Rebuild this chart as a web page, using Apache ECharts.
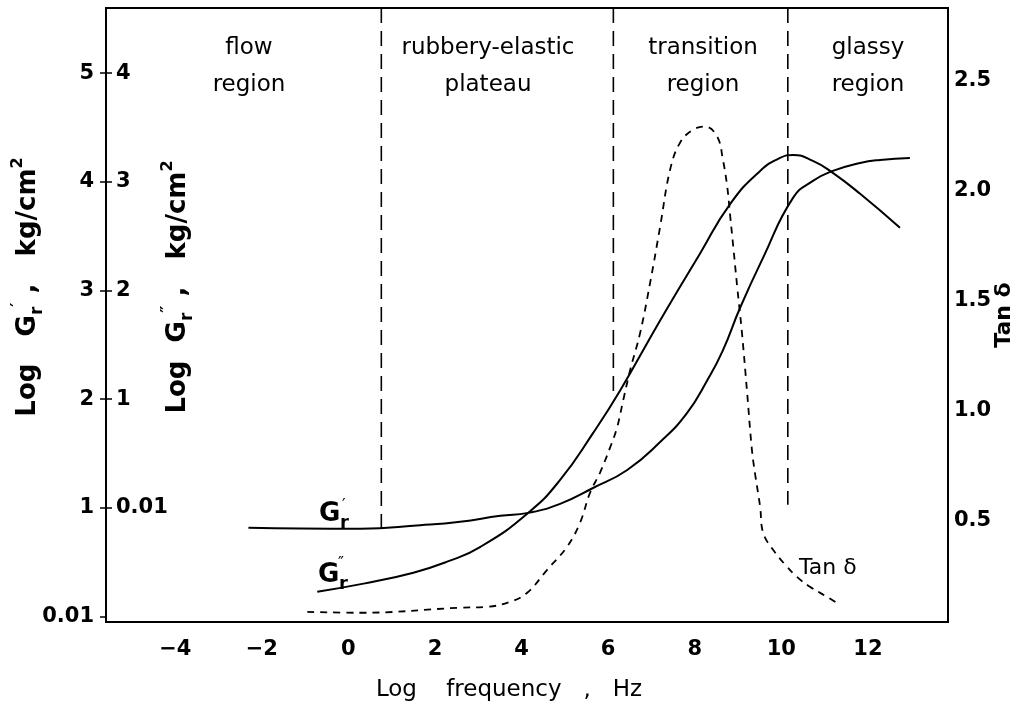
<!DOCTYPE html>
<html><head><meta charset="utf-8">
<script src="https://cdn.jsdelivr.net/npm/echarts@6/dist/echarts.min.js"></script>
<style>html,body{margin:0;padding:0;background:#fff}#c{width:1017px;height:709px}</style>
</head><body><div id="c"></div>
<script>
// ---- data ----
const xTicks = [-4, -2, 0, 2, 4, 6, 8, 10, 12];
const gPrimeTicks = [0, 1, 2, 3, 4, 5];          // outer left axis (0 labelled "0.01")
const gDoublePrimeTicks = [0, 1, 2, 3, 4];       // inner left axis (0 labelled "0.01")
const tanTicks = [0.5, 1.0, 1.5, 2.0, 2.5];      // right axis

// Log G'r (storage modulus), outer left axis
const gPrimeX = [-2.31, -1.11, 0.28, 1.66, 2.58, 3.51, 4.15, 4.89, 5.65, 6.44, 7.20, 7.82, 8.29, 8.65, 9.05, 9.58, 10.27, 10.73, 11.19, 11.82, 12.28, 12.97];
const gPrimeY = [0.817, 0.810, 0.808, 0.840, 0.872, 0.927, 0.954, 1.037, 1.183, 1.349, 1.606, 1.872, 2.174, 2.450, 2.844, 3.303, 3.853, 4.009, 4.101, 4.174, 4.202, 4.220];

// Log G''r (loss modulus), inner left axis
const gDoublePrimeX = [-0.72, 0.35, 1.50, 2.28, 3.05, 4.15, 4.89, 5.65, 6.28, 7.20, 8.12, 8.82, 9.51, 9.97, 10.27, 10.73, 11.19, 11.82, 12.74];
const gDoublePrimeY = [-0.771, -0.697, -0.596, -0.495, -0.358, -0.046, 0.257, 0.688, 1.083, 1.725, 2.339, 2.798, 3.101, 3.220, 3.248, 3.193, 3.083, 2.890, 2.578];

// Tan delta, right axis
const tanX = [-0.95, 0.28, 2.58, 3.21, 3.74, 4.13, 4.59, 5.05, 5.35, 5.58, 5.81, 6.05, 6.21, 6.35, 6.51, 6.74, 6.97, 7.20, 7.43, 7.66, 7.96, 8.24, 8.52, 8.65, 8.75, 8.82, 8.89, 8.98, 9.09, 9.21, 9.32, 9.39, 9.51, 9.58, 9.81, 10.09, 10.36, 10.66, 11.05, 11.35];
const tanY = [0.086, 0.082, 0.105, 0.109, 0.132, 0.173, 0.277, 0.382, 0.491, 0.627, 0.718, 0.836, 0.927, 1.050, 1.186, 1.355, 1.582, 1.836, 2.095, 2.218, 2.277, 2.291, 2.245, 2.141, 2.018, 1.882, 1.745, 1.564, 1.355, 1.082, 0.823, 0.718, 0.564, 0.445, 0.368, 0.300, 0.245, 0.200, 0.155, 0.118];

// region boundaries (x position, lower end on outer left axis)
const boundaryX = [0.76, 6.12, 10.15];
const boundaryBottom = [0.80, 2.02, 1.03];
const boundaryTop = 5.6;

const regionNames = ['flow\nregion', 'rubbery-elastic\nplateau', 'transition\nregion', 'glassy\nregion'];

// ---- chart ----
const FF = 'DejaVu Sans';
const zip = (a, b) => a.map((v, i) => [v, b[i]]);
const lab0 = v => (v === 0 ? '0.01' : String(v));

const chart = echarts.init(document.getElementById('c'), null, {renderer: 'canvas'});

const series = [
  {name: "G'r", type: 'line', xAxisIndex: 0, yAxisIndex: 0, data: zip(gPrimeX, gPrimeY), smooth: 0.5,
   symbol: 'none', lineStyle: {color: '#000', width: 2}, silent: true},
  {name: "G''r", type: 'line', xAxisIndex: 0, yAxisIndex: 1, data: zip(gDoublePrimeX, gDoublePrimeY), smooth: 0.5,
   symbol: 'none', lineStyle: {color: '#000', width: 2}, silent: true},
  {name: 'Tan δ', type: 'line', xAxisIndex: 0, yAxisIndex: 2, data: zip(tanX, tanY), smooth: 0.4,
   symbol: 'none', lineStyle: {color: '#000', width: 1.8, type: [7, 6]}, silent: true}
];
boundaryX.forEach((x, i) => {
  series.push({type: 'line', yAxisIndex: 0, data: [[x, boundaryTop], [x, boundaryBottom[i]]],
    symbol: 'none', lineStyle: {color: '#000', width: 1.6, type: [15, 8]}, silent: true});
});

const richName = {
  t: {fontFamily: FF, fontSize: 26, fontWeight: 'bold', color: '#000', lineHeight: 36},
  s: {fontFamily: FF, fontSize: 17, fontWeight: 'bold', color: '#000', lineHeight: 17, verticalAlign: 'bottom'},
  p: {fontFamily: FF, fontSize: 16, fontWeight: 'bold', color: '#000', lineHeight: 16, verticalAlign: 'top'}
};

const regionCenters = [249, 488, 703, 868];

const option = {
  backgroundColor: '#fff',
  animation: false,
  grid: {left: 106, right: 69, top: 8, bottom: 87, show: true, borderColor: '#000', borderWidth: 2,
         backgroundColor: 'transparent', containLabel: false, outerBoundsMode: 'none'},
  xAxis: [{
    type: 'value', min: -5.6, max: 13.85,
    axisLine: {show: true, onZero: false, lineStyle: {color: '#000', width: 2}},
    axisTick: {show: false}, splitLine: {show: false},
    axisLabel: {customValues: xTicks, formatter: v => (v < 0 ? '\u2212' + Math.abs(v) : String(v)),
      fontFamily: FF, fontWeight: 'bold', fontSize: 21, color: '#000', margin: 17},
    name: 'Log    frequency   ,   Hz', nameLocation: 'middle', nameGap: 57, nameMoveOverlap: false,
    nameTextStyle: {fontFamily: FF, fontSize: 23, color: '#000', padding: [0, 36, 0, 0]}
  }],
  yAxis: [
    {
      type: 'value', position: 'left', min: -0.05, max: 5.6,
      axisLine: {show: true, onZero: false, lineStyle: {color: '#000', width: 2}},
      axisTick: {show: true, customValues: gPrimeTicks, length: 6, lineStyle: {color: '#000', width: 1.5}},
      splitLine: {show: false},
      axisLabel: {customValues: gPrimeTicks, formatter: lab0, fontFamily: FF, fontWeight: 'bold', fontSize: 21, color: '#000', margin: 12},
      name: '{t|Log   G}{s|r}{p|\u2032}{t| ,   kg/cm}{p|2}', nameLocation: 'middle', nameGap: 60, nameMoveOverlap: false,
      nameTextStyle: {rich: richName, padding: [0, 0, 0, 56]}
    },
    {
      type: 'value', position: 'left', min: -1.05, max: 4.6,
      axisLine: {show: false, onZero: false},
      axisTick: {show: true, inside: true, customValues: gDoublePrimeTicks, length: 6, lineStyle: {color: '#000', width: 1.5}},
      splitLine: {show: false},
      axisLabel: {inside: true, customValues: gDoublePrimeTicks, formatter: lab0, fontFamily: FF, fontWeight: 'bold', fontSize: 21, color: '#000', margin: 10},
      name: '{t|Log  G}{s|r}{p|\u2033}{t| ,   kg/cm}{p|2}', nameLocation: 'middle', nameGap: -90, nameMoveOverlap: false,
      nameTextStyle: {rich: richName, padding: [0, 0, 0, 56]}
    },
    {
      type: 'value', position: 'right', min: 0.04, max: 2.83,
      axisLine: {show: true, onZero: false, lineStyle: {color: '#000', width: 2}},
      axisTick: {show: false}, splitLine: {show: false},
      axisLabel: {customValues: tanTicks, formatter: v => v.toFixed(1), fontFamily: FF, fontWeight: 'bold', fontSize: 21, color: '#000', margin: 6},
      name: 'Tan δ', nameLocation: 'middle', nameGap: 45, nameRotate: 90, nameMoveOverlap: false,
      nameTextStyle: {fontFamily: FF, fontSize: 22, fontWeight: 'bold', color: '#000'}
    }
  ],
  series: series,
  graphic: [
    ...regionNames.map((t, i) => ({
      type: 'text', x: regionCenters[i], y: 67, silent: true,
      style: {text: t, font: '23px "DejaVu Sans"', fill: '#000', align: 'center', verticalAlign: 'middle', lineHeight: 37}
    })),
    // curve labels
    {type: 'text', x: 319, y: 527, silent: true, style: {text: 'G', font: 'bold 26px "DejaVu Sans"', fill: '#000', align: 'left', verticalAlign: 'bottom'}},
    {type: 'text', x: 340, y: 532, silent: true, style: {text: 'r', font: 'bold 18px "DejaVu Sans"', fill: '#000', align: 'left', verticalAlign: 'bottom'}},
    {type: 'text', x: 342, y: 498, silent: true, style: {text: '\u2032', font: '16px "DejaVu Sans"', fill: '#000', align: 'left', verticalAlign: 'top'}},
    {type: 'text', x: 318, y: 588, silent: true, style: {text: 'G', font: 'bold 26px "DejaVu Sans"', fill: '#000', align: 'left', verticalAlign: 'bottom'}},
    {type: 'text', x: 339, y: 593, silent: true, style: {text: 'r', font: 'bold 18px "DejaVu Sans"', fill: '#000', align: 'left', verticalAlign: 'bottom'}},
    {type: 'text', x: 338, y: 556, silent: true, style: {text: '\u2033', font: '16px "DejaVu Sans"', fill: '#000', align: 'left', verticalAlign: 'top'}},
    {type: 'text', x: 799, y: 568, silent: true, style: {text: 'Tan δ', font: '22px "DejaVu Sans"', fill: '#000', align: 'left', verticalAlign: 'middle'}}
  ]
};
chart.setOption(option);
</script>
</body></html>
